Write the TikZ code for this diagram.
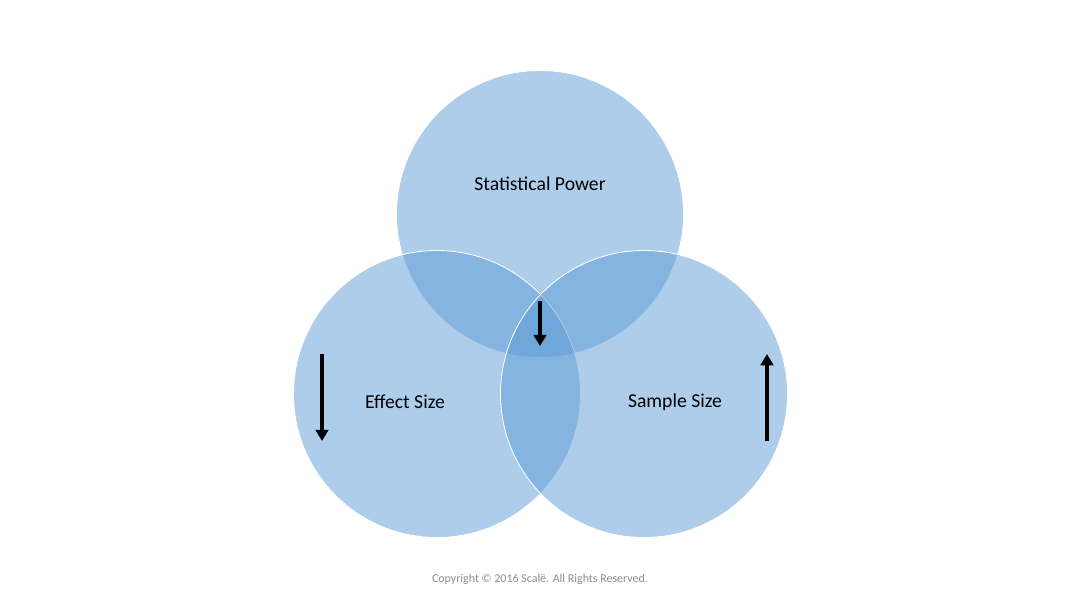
\documentclass[tikz,border=0pt]{standalone}
\usepackage{fontspec}
\setmainfont{Carlito}
\usetikzlibrary{arrows.meta, positioning}
\definecolor{SkyBlue}{HTML}{5B9BD5}
\definecolor{Graytext}{HTML}{8C8C8C}

\begin{document}
\begin{tikzpicture}[x=0.025cm, y=-0.025cm,
    venn/.style={circle, fill=SkyBlue, fill opacity=0.5, draw=white, line width=0.6pt, minimum size=287*0.025cm, inner sep=0pt},
    label/.style={font=\fontsize{14}{16}\selectfont, text=black},
    trend/.style={line width=2.4pt, -{Triangle[length=8pt, width=9pt]}}]
    \useasboundingbox (0,0) rectangle (1080,607);
    % Three circles
    \node[venn] (power) at (540,214) {};
    \node[venn] (effect) at (437,394) {};
    \node[venn] (sample) at (644,394) {};

    % Labels
    \node[label] (powertxt) at (540,184) {Statistical Power};
    \node[label] (effecttxt) at (405,402) {Effect Size};
    \node[label] (sampletxt) at (675,402) {Sample Size};

    % Arrows
    \coordinate (e1) at (322,354);
    \coordinate (e2) at (322,441);
    \coordinate (s1) at (767,441);
    \coordinate (s2) at (767,354);
    \coordinate (p1) at (540,301);
    \coordinate (p2) at (540,346);
    \draw[trend] (e1) -- (e2);
    \draw[trend] (s1) -- (s2);
    \draw[trend] (p1) -- (p2);

    % Footer
    \node[text=Graytext, font=\fontsize{8.5}{10}\selectfont] (copy) at (540,579) {Copyright © 2016 Scalë. All Rights Reserved.};
\end{tikzpicture}
\end{document}
